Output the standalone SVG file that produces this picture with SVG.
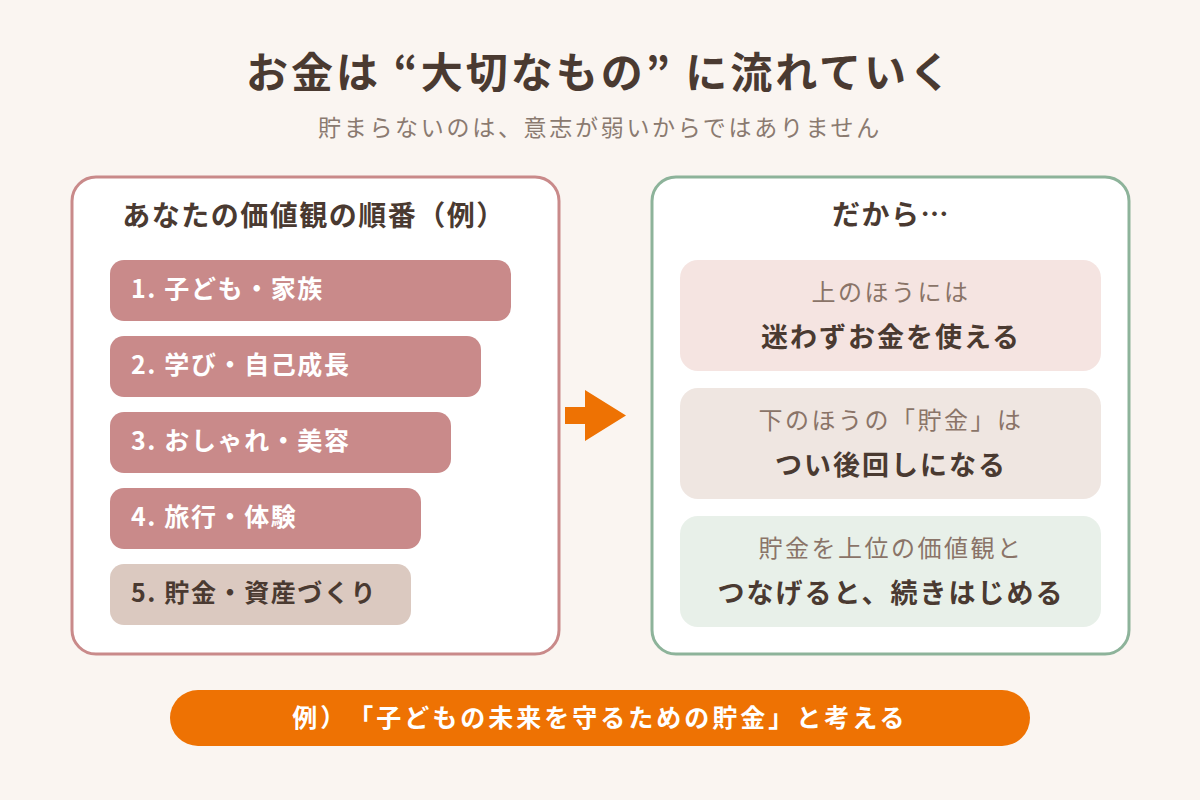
<svg xmlns="http://www.w3.org/2000/svg" width="1200" height="800" viewBox="0 0 1200 800">
<style>
text{font-family:"Noto Sans CJK JP","Noto Sans",sans-serif;text-spacing-trim:space-all}
.title{font-size:42px;font-weight:700;fill:#4a3a31;letter-spacing:3px}
.sub{font-size:23px;fill:#8a7a70;letter-spacing:2.7px}
.ph{font-size:28px;font-weight:700;fill:#4a3a31;letter-spacing:1.5px}
.bar{fill:#c98a8a}
.bt{font-size:25px;font-weight:700;fill:#ffffff;letter-spacing:1.6px}
.bt5{fill:#4a3a31}
.l1{font-size:24px;fill:#8a7468;letter-spacing:2.5px}
.l2{font-size:27px;font-weight:700;fill:#4a3a31;letter-spacing:2px}
.foot{font-size:25px;font-weight:700;fill:#ffffff;letter-spacing:3px}
</style>
<rect width="1200" height="800" fill="#faf5f1"/>
<g id="header">
<text class="title" x="600" y="88" text-anchor="middle">お金は “大切なもの” に流れていく</text>
<text class="sub" x="600" y="136" text-anchor="middle">貯まらないのは、意志が弱いからではありません</text>
</g>
<g id="left-panel">
<rect x="72" y="177" width="487" height="477" rx="24" fill="#ffffff" stroke="#c98a8a" stroke-width="3"/>
<text class="ph" x="314" y="226" text-anchor="middle">あなたの価値観の順番（例）</text>
</g>
<g id="item1"><rect class="bar" x="110" y="260" width="401" height="61" rx="14"/><text class="bt" x="131" y="298">1. 子ども・家族</text></g>
<g id="item2"><rect class="bar" x="110" y="336" width="371" height="61" rx="14"/><text class="bt" x="131" y="374">2. 学び・自己成長</text></g>
<g id="item3"><rect class="bar" x="110" y="412" width="341" height="61" rx="14"/><text class="bt" x="131" y="450">3. おしゃれ・美容</text></g>
<g id="item4"><rect class="bar" x="110" y="488" width="311" height="61" rx="14"/><text class="bt" x="131" y="526">4. 旅行・体験</text></g>
<g id="item5"><rect x="110" y="564" width="301" height="61" rx="14" fill="#dbc9c0"/><text class="bt bt5" x="131" y="602">5. 貯金・資産づくり</text></g>
<g id="connectors">
<polygon points="565,407 585,407 585,390 626,415.5 585,441 585,424 565,424" fill="#ee7203"/>
</g>
<g id="right-panel">
<rect x="652" y="177" width="477" height="477" rx="24" fill="#ffffff" stroke="#8db39a" stroke-width="3"/>
<text class="ph" x="891" y="225" text-anchor="middle">だから…</text>
</g>
<g id="box1"><rect x="680" y="260" width="421" height="111" rx="18" fill="#f5e4e1"/>
<text class="l1" x="891" y="301" text-anchor="middle">上のほうには</text>
<text class="l2" x="891" y="347" text-anchor="middle">迷わずお金を使える</text></g>
<g id="box2"><rect x="680" y="388" width="421" height="111" rx="18" fill="#efe6e1"/>
<text class="l1" x="891" y="429" text-anchor="middle">下のほうの「貯金」は</text>
<text class="l2" x="891" y="475" text-anchor="middle">つい後回しになる</text></g>
<g id="box3"><rect x="680" y="516" width="421" height="111" rx="18" fill="#e8f0e9"/>
<text class="l1" x="891" y="557" text-anchor="middle">貯金を上位の価値観と</text>
<text class="l2" x="891" y="603" text-anchor="middle">つなげると、続きはじめる</text></g>
<g id="footer">
<rect x="170" y="690" width="860" height="56" rx="28" fill="#ee7203"/>
<text class="foot" x="600" y="727" text-anchor="middle">例）「子どもの未来を守るための貯金」と考える</text>
</g>
</svg>
